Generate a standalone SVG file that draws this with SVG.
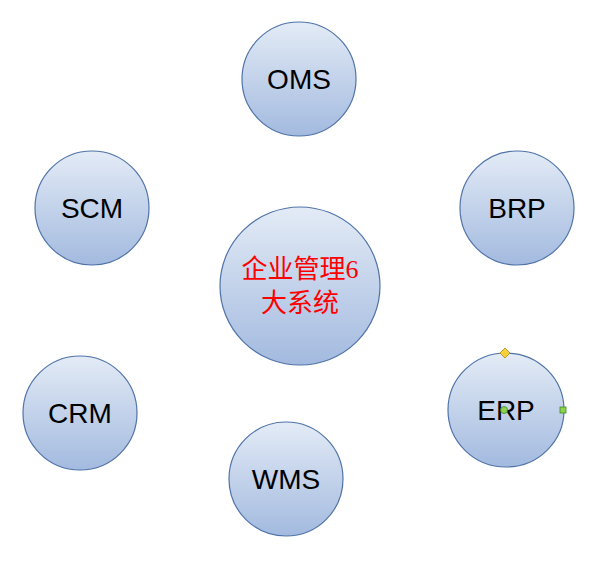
<svg xmlns="http://www.w3.org/2000/svg" width="613" height="577" viewBox="0 0 613 577">
<defs>
<linearGradient id="g" x1="0" y1="0" x2="0" y2="1">
<stop offset="0" stop-color="#e3ebf6"/>
<stop offset="1" stop-color="#a3badf"/>
</linearGradient>
<style>
.c{fill:url(#g);stroke:#4f73a8;stroke-width:1.2}
.t{font-family:"Liberation Sans",Arial,sans-serif;font-size:28px;fill:#000;text-anchor:middle}
.z{font-family:"Liberation Serif","Noto Sans CJK SC",serif;font-size:26px;fill:#ff0000;text-anchor:middle}
</style>
</defs>
<rect width="613" height="577" fill="#fff"/>
<g id="connectors"></g>
<g id="oms"><ellipse class="c" cx="299" cy="79" rx="57" ry="57"/><text class="t" x="299" y="89">OMS</text></g>
<g id="scm"><ellipse class="c" cx="92" cy="208" rx="57" ry="57"/><text class="t" x="92" y="218">SCM</text></g>
<g id="brp"><ellipse class="c" cx="517" cy="208" rx="57" ry="57"/><text class="t" x="517" y="218">BRP</text></g>
<g id="center"><ellipse class="c" cx="300" cy="286" rx="80" ry="79"/><text class="z" x="300" y="278">企业管理6</text><text class="z" x="300" y="312">大系统</text></g>
<g id="crm"><ellipse class="c" cx="80" cy="413" rx="57" ry="57"/><text class="t" x="80" y="423">CRM</text></g>
<g id="erp"><ellipse class="c" cx="506" cy="410" rx="58" ry="57"/><text class="t" x="506" y="420">ERP</text>
<polygon points="505,348 510,353 505,358 500,353" fill="#f5d03a" stroke="#b08a10" stroke-width="0.8"/>
<rect x="560" y="407" width="6" height="6" fill="#8fd14f" stroke="#3a8a20" stroke-width="0.8"/>
<circle cx="504" cy="410" r="3.5" fill="#8fd14f" stroke="#3a8a20" stroke-width="0.8"/></g>
<g id="wms"><ellipse class="c" cx="286" cy="479" rx="57" ry="57"/><text class="t" x="286" y="489">WMS</text></g>
</svg>
